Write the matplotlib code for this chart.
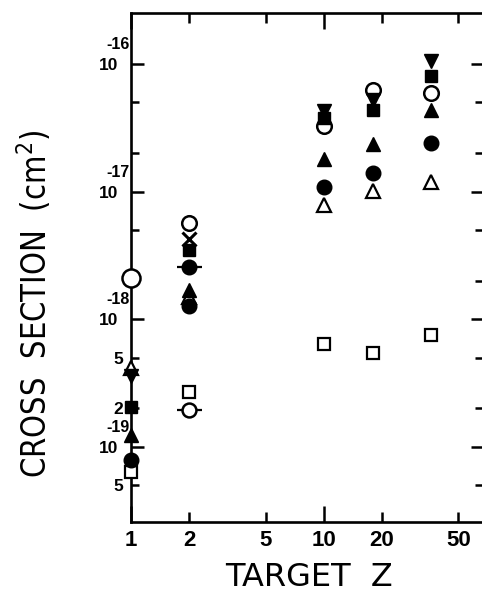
import numpy as np
import matplotlib
matplotlib.use("Agg")
import matplotlib.pyplot as plt
from matplotlib.ticker import FixedLocator, FixedFormatter

# Target atomic number (H, He, Ne, Ar, Kr)
z_all = [1, 2, 10, 18, 36]

# Cross sections (cm^2) for each symbol
open_circle = [2.1e-18, 5.7e-18, 3.27e-17, 6.25e-17, 5.9e-17]
open_tri = [4.15e-19, 1.48e-18, 7.8e-18, 1.02e-17, 1.2e-17]
open_sq = [6.4e-20, 2.7e-19, 6.45e-19, 5.4e-19, 7.5e-19]
filled_sq = [2.06e-19, 3.5e-18, 3.78e-17, 4.36e-17, 8.05e-17]
filled_tri = [1.23e-19, 1.69e-18, 1.8e-17, 2.35e-17, 4.36e-17]
filled_circle = [7.9e-20, 1.26e-18, 1.09e-17, 1.41e-17, 2.4e-17]

z_inv = [1, 10, 18, 36]
inv_tri = [3.6e-19, 4.3e-17, 5.2e-17, 1.06e-16]

z_he = [2]
cross_he = [4.26e-18]
dash_filled_he = [2.58e-18]
dash_open_he = [1.94e-19]

x_major = [1, 10]
x_minor = [2, 5, 20, 50]
x_minor_labels = ["2", "5", "20", "50"]
y_major = [1e-16, 1e-17, 1e-18, 1e-19]
y_major_exp = ["-16", "-17", "-18", "-19"]
y_minor = [5e-17, 2e-17, 5e-18, 2e-18, 5e-19, 2e-19, 5e-20]
y_minor_labels = ["", "", "", "", "5", "2", "5"]

label_font = ["DejaVu Sans"]
tick_font = ["Liberation Sans", "DejaVu Sans"]

fig = plt.figure(figsize=(4.82, 5.92), dpi=100)
ax = fig.add_axes([131 / 482, 70.3 / 592, 352 / 482, 508.7 / 592])
ax.set_xscale("log")
ax.set_yscale("log")
ax.set_xlim(1, 67.1)
ax.set_ylim(2.59e-20, 2.51e-16)

for s in ["left", "bottom", "top", "right"]:
    ax.spines[s].set_linewidth(1.9)

ms_kw = dict(linestyle="none", clip_on=False, zorder=3)
# open symbols first, filled ones on top
ax.plot(z_all, open_sq, marker="s", ms=8.5, mfc="white", mec="black", mew=1.6, **ms_kw)
ax.plot(z_all, open_tri, marker="^", ms=9.5, mfc="white", mec="black", mew=1.6, **ms_kw)
ax.plot(z_all[1:], open_circle[1:], marker="o", ms=10.5, mfc="white", mec="black", mew=1.8, **ms_kw)
ax.plot(z_all[:1], open_circle[:1], marker="o", ms=13, mfc="white", mec="black", mew=1.8, **ms_kw)
ax.plot(z_he, dash_open_he, marker="_", ms=18, mec="black", mew=1.6, **ms_kw)
ax.plot(z_he, dash_open_he, marker="o", ms=10, mfc="white", mec="black", mew=1.8, **ms_kw)
ax.plot(z_he, cross_he, marker="x", ms=10, mec="black", mew=2.2, **ms_kw)
ax.plot(z_all, filled_circle, marker="o", ms=10.5, color="black", **ms_kw)
ax.plot(z_he, dash_filled_he, marker="_", ms=18, mec="black", mew=1.6, **ms_kw)
ax.plot(z_he, dash_filled_he, marker="o", ms=10.5, color="black", **ms_kw)
ax.plot(z_all, filled_tri, marker="^", ms=9.5, color="black", **ms_kw)
ax.plot(z_inv, inv_tri, marker="v", ms=9.5, color="black", **ms_kw)
ax.plot(z_all, filled_sq, marker="s", ms=8.5, color="black", **ms_kw)

# ticks
ax.xaxis.set_major_locator(FixedLocator(x_major))
ax.xaxis.set_major_formatter(FixedFormatter(["1", "10"]))
ax.xaxis.set_minor_locator(FixedLocator(x_minor))
ax.xaxis.set_minor_formatter(FixedFormatter(x_minor_labels))
ax.yaxis.set_major_locator(FixedLocator(y_major))
ax.yaxis.set_major_formatter(FixedFormatter(["10"] * 4))
ax.yaxis.set_minor_locator(FixedLocator(y_minor))
ax.yaxis.set_minor_formatter(FixedFormatter(y_minor_labels))

ax.tick_params(axis="x", which="major", direction="in", length=11.5, width=1.8,
               top=True, pad=6, labelsize=16)
ax.tick_params(axis="x", which="minor", direction="in", length=7, width=1.8,
               top=True, pad=6, labelsize=16)
ax.tick_params(axis="y", which="major", direction="in", length=9, width=1.8,
               right=True, pad=9, labelsize=12.5)
ax.tick_params(axis="y", which="minor", direction="in", length=5.5, width=1.8,
               right=True, pad=5.5, labelsize=12.5)
for lab in ax.get_xticklabels(which="both") + ax.get_yticklabels(which="both"):
    lab.set_family(tick_font)
    lab.set_weight("bold")

# exponents above the "10" labels
for v, e in zip(y_major, y_major_exp):
    ax.annotate(e, xy=(0, v), xycoords=("axes fraction", "data"), xytext=(-1, 14),
                textcoords="offset points", ha="right", va="center",
                fontsize=11.5, fontweight="bold", family=tick_font)

ylab = fig.text(35 / 482, 1 - 304 / 592, r"CROSS  SECTION  (cm$^{\mathregular{2}}$)",
                rotation=90, ha="center", va="center", fontsize=26,
                family=label_font, fontstretch="condensed")
fig.text(309 / 482, 1 - 578 / 592, "TARGET  Z", ha="center", va="center",
         fontsize=23, family=label_font)

# shrink the vertical label so it spans the same length as in the original
renderer = fig.canvas.get_renderer()
h = ylab.get_window_extent(renderer).height
ylab.set_fontsize(26 * 348 / h)

fig.savefig("out.png", dpi=100)
